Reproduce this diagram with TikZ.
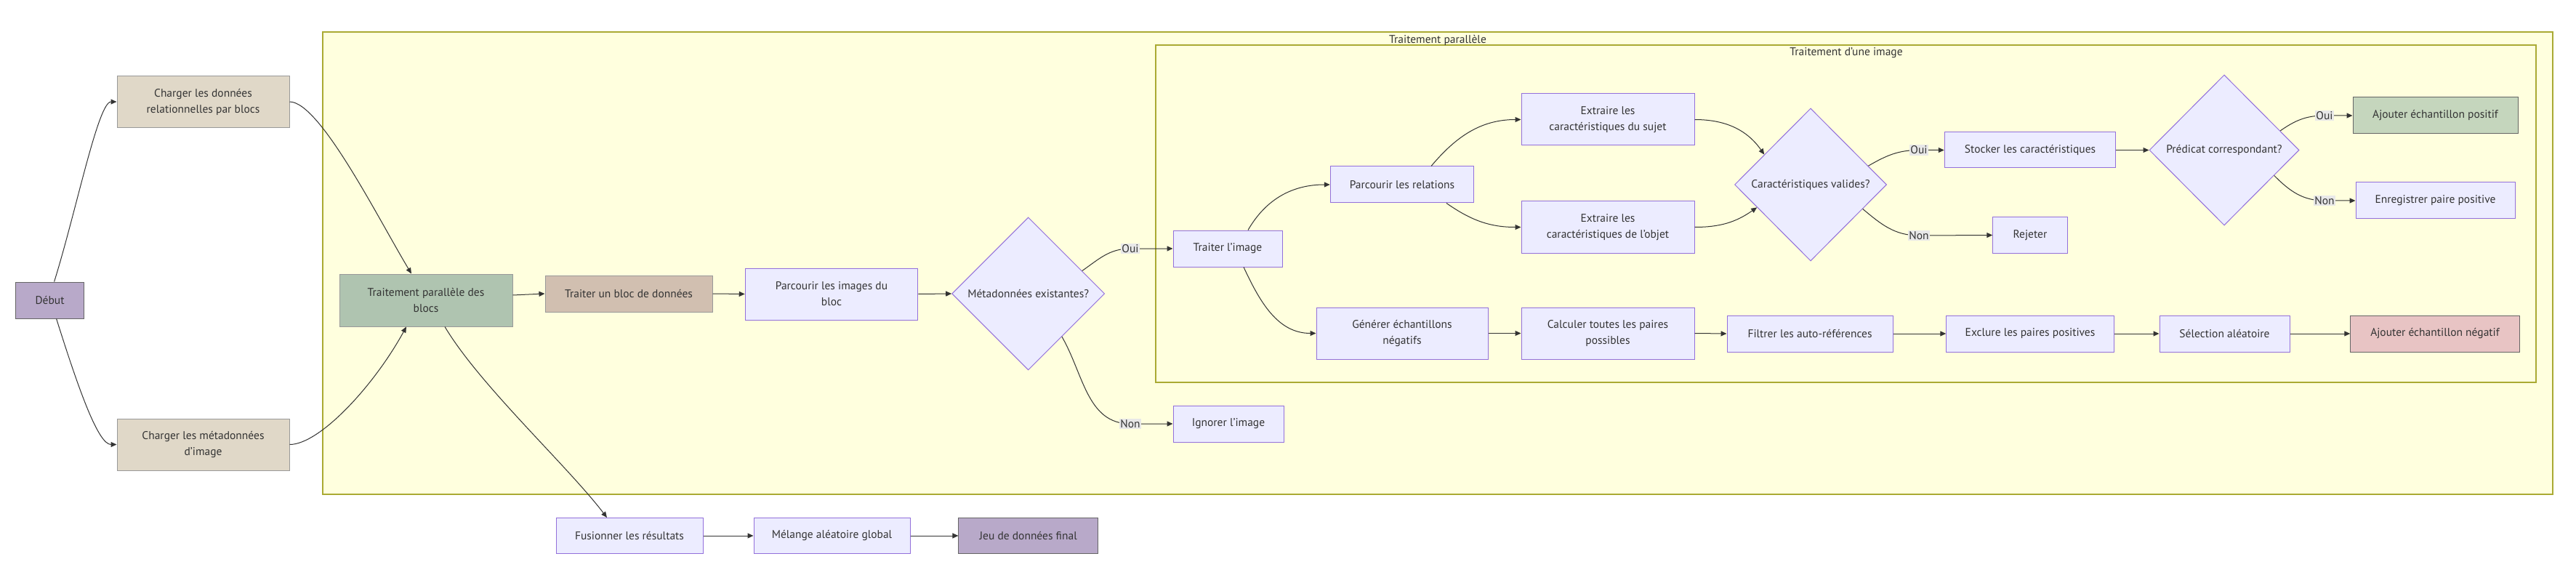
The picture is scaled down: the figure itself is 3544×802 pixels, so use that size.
\documentclass[tikz,border=0pt]{standalone}
\usepackage{fontspec}
\setmainfont{PT Sans}
\usetikzlibrary{shapes.geometric,arrows.meta}
\definecolor{nodefill}{HTML}{ECECFF}
\definecolor{nodedraw}{HTML}{9370DB}
\definecolor{purplefill}{HTML}{B8A9C9}
\definecolor{tanfill}{HTML}{E0D8C8}
\definecolor{brownfill}{HTML}{D1BFB0}
\definecolor{greenfill}{HTML}{AFC4B0}
\definecolor{posfill}{HTML}{C5D6BD}
\definecolor{negfill}{HTML}{E8C4C4}
\definecolor{clfill}{HTML}{FFFFDE}
\definecolor{cldraw}{HTML}{AAAA33}
\definecolor{txt}{HTML}{333333}
\definecolor{edgec}{HTML}{333333}
\definecolor{lblgray}{HTML}{E8E8E8}
\definecolor{grayb}{HTML}{999999}
\definecolor{darkb}{HTML}{666666}
\begin{document}
\begin{tikzpicture}[x=1pt,y=1pt,
  fnt/.style={font=\fontsize{15.5}{22}\selectfont},
  box/.style={rectangle, draw=nodedraw, fill=nodefill, line width=1pt, inner sep=0pt, align=center, text=txt, fnt},
  dia/.style={diamond, aspect=1, draw=nodedraw, fill=nodefill, line width=1pt, inner sep=0pt, text=txt, fnt},
  startn/.style={fill=purplefill, draw=darkb},
  tann/.style={fill=tanfill, draw=grayb},
  brownn/.style={fill=brownfill, draw=grayb},
  greenn/.style={fill=greenfill, draw=grayb},
  posn/.style={fill=posfill, draw=darkb},
  negn/.style={fill=negfill, draw=darkb},
  cluster/.style={fill=clfill, draw=cldraw, line width=1.2pt},
  edge/.style={draw=edgec, line width=1pt, -{Triangle[length=8pt,width=7pt]}},
  lbl/.style={fill=lblgray, inner sep=1.5pt, text=txt, fnt},
  ttl/.style={text=txt, fnt, inner sep=0pt},
]
\useasboundingbox (0,0) rectangle (3544,-802);
% clusters
\draw[cluster] (444,-44) rectangle (3512,-680);
\draw[cluster] (1590,-62) rectangle (3489,-526);
\node[ttl] (t1) at (1978,-55) {Traitement parallèle};
\node[ttl] (t2) at (2540,-73) {Traitement d'une image};

% nodes
\node[box,startn,minimum width=94pt,minimum height=50pt] (debut) at (68.6,-413) {Début};
\node[box,tann,minimum width=237pt,minimum height=71pt] (c1) at (279.5,-140) {Charger les données\\relationnelles par blocs};
\node[box,tann,minimum width=237pt,minimum height=71pt] (c2) at (279.5,-611.5) {Charger les métadonnées\\d'image};
\node[box,greenn,minimum width=238pt,minimum height=72pt] (tpb) at (586,-413) {Traitement parallèle des\\blocs};
\node[box,brownn,minimum width=230pt,minimum height=50pt] (tb) at (865,-404) {Traiter un bloc de données};
\node[box,minimum width=237.5pt,minimum height=71pt] (pib) at (1144,-404.5) {Parcourir les images du\\bloc};
\node[dia,minimum width=210pt,minimum height=210pt] (meta) at (1414.7,-404) {Métadonnées existantes?};
\node[box,minimum width=150pt,minimum height=50pt] (ti) at (1689,-342) {Traiter l'image};
\node[box,minimum width=152pt,minimum height=50pt] (ig) at (1690,-583) {Ignorer l'image};
\node[box,minimum width=197.5pt,minimum height=50pt] (pr) at (1929,-254) {Parcourir les relations};
\node[box,minimum width=238pt,minimum height=71pt] (es) at (2212,-164.5) {Extraire les\\caractéristiques du sujet};
\node[box,minimum width=238pt,minimum height=71pt] (eo) at (2212,-312.5) {Extraire les\\caractéristiques de l'objet};
\node[dia,minimum width=209pt,minimum height=210pt] (cv) at (2491,-254) {Caractéristiques valides?};
\node[box,minimum width=235.5pt,minimum height=49pt] (st) at (2793,-206.5) {Stocker les caractéristiques};
\node[box,minimum width=102.5pt,minimum height=49pt] (rj) at (2793,-323.5) {Rejeter};
\node[dia,minimum width=206pt,minimum height=207pt] (pc) at (3060,-206.5) {Prédicat correspondant?};
\node[box,posn,minimum width=227pt,minimum height=50pt] (ap) at (3350.5,-159) {Ajouter échantillon positif};
\node[box,minimum width=219pt,minimum height=50pt] (en) at (3350.5,-276) {Enregistrer paire positive};
\node[box,minimum width=236pt,minimum height=71pt] (gen) at (1929,-458.5) {Générer échantillons\\négatifs};
\node[box,minimum width=238pt,minimum height=71pt] (cal) at (2212,-458.5) {Calculer toutes les paires\\possibles};
\node[box,minimum width=228pt,minimum height=50pt] (fil) at (2490,-459) {Filtrer les auto-références};
\node[box,minimum width=230.5pt,minimum height=50pt] (exc) at (2793,-459) {Exclure les paires positives};
\node[box,minimum width=179pt,minimum height=50pt] (sel) at (3060.5,-459) {Sélection aléatoire};
\node[box,negn,minimum width=232.5pt,minimum height=50pt] (an) at (3350,-459) {Ajouter échantillon négatif};
\node[box,minimum width=202pt,minimum height=49pt] (fu) at (866,-737) {Fusionner les résultats};
\node[box,minimum width=215pt,minimum height=49pt] (mel) at (1144.5,-737) {Mélange aléatoire global};
\node[box,startn,minimum width=191.5pt,minimum height=49pt] (jeu) at (1414.7,-737) {Jeu de données final};

% label positions
\coordinate (lOui1) at (1555,-342);
\coordinate (lNon1) at (1555,-583);
\coordinate (lOui2) at (2640,-206.5);
\coordinate (lNon2) at (2640,-324);
\coordinate (lOui3) at (3198,-159);
\coordinate (lNon3) at (3198,-276);

% edges
\draw[edge] ([xshift=6pt]debut.north) .. controls (105,-290) and (135,-140) .. (c1.west);
\draw[edge] ([xshift=9pt]debut.south) .. controls (108,-535) and (135,-611.5) .. (c2.west);
\draw[edge] (c1.east) .. controls (440,-140) and (520,-300) .. ([xshift=-20pt]tpb.north);
\draw[edge] (c2.east) .. controls (440,-611.5) and (515,-530) .. ([xshift=-27pt]tpb.south);
\draw[edge] ([yshift=7pt]tpb.east) -- (tb.west);
\draw[edge] (tb.east) -- (pib.west);
\draw[edge] (pib.east) -- (meta.west);
\draw[edge] (meta.23) to[out=35,in=180] (lOui1) -- (ti.west);
\draw[edge] (meta.-52) to[out=-60,in=180] (lNon1) -- (ig.west);
\draw[edge] ([xshift=28pt]ti.north) to[out=60,in=180] (pr.west);
\draw[edge] ([xshift=22pt]ti.south) to[out=-65,in=180] (gen.west);
\draw[edge] ([xshift=40pt]pr.north) to[out=50,in=180] (es.west);
\draw[edge] ([xshift=61pt]pr.south) to[out=-35,in=180] (eo.west);
\draw[edge] (es.east) to[out=0,in=125] (cv.147);
\draw[edge] (eo.east) to[out=0,in=215] (cv.203);
\draw[edge] (cv.18) to[out=30,in=180] (lOui2) -- (st.west);
\draw[edge] (cv.-25) to[out=-40,in=180] (lNon2) -- (rj.west);
\draw[edge] (st.east) -- (pc.west);
\draw[edge] (pc.19) to[out=35,in=180] (lOui3) -- (ap.west);
\draw[edge] (pc.-27) to[out=-45,in=180] (lNon3) -- (en.west);
\draw[edge] (gen.east) -- (cal.west);
\draw[edge] (cal.east) -- (fil.west);
\draw[edge] (fil.east) -- (exc.west);
\draw[edge] (exc.east) -- (sel.west);
\draw[edge] (sel.east) -- (an.west);
\draw[edge] ([xshift=26pt]tpb.south) .. controls (660,-530) and (780,-640) .. ([xshift=-31pt]fu.north);
\draw[edge] (fu.east) -- (mel.west);
\draw[edge] (mel.east) -- (jeu.west);

% edge labels
\node[lbl] (o1) at (lOui1) {Oui};
\node[lbl] (n1) at (lNon1) {Non};
\node[lbl] (o2) at (lOui2) {Oui};
\node[lbl] (n2) at (lNon2) {Non};
\node[lbl] (o3) at (lOui3) {Oui};
\node[lbl] (n3) at (lNon3) {Non};
\end{tikzpicture}
\end{document}
